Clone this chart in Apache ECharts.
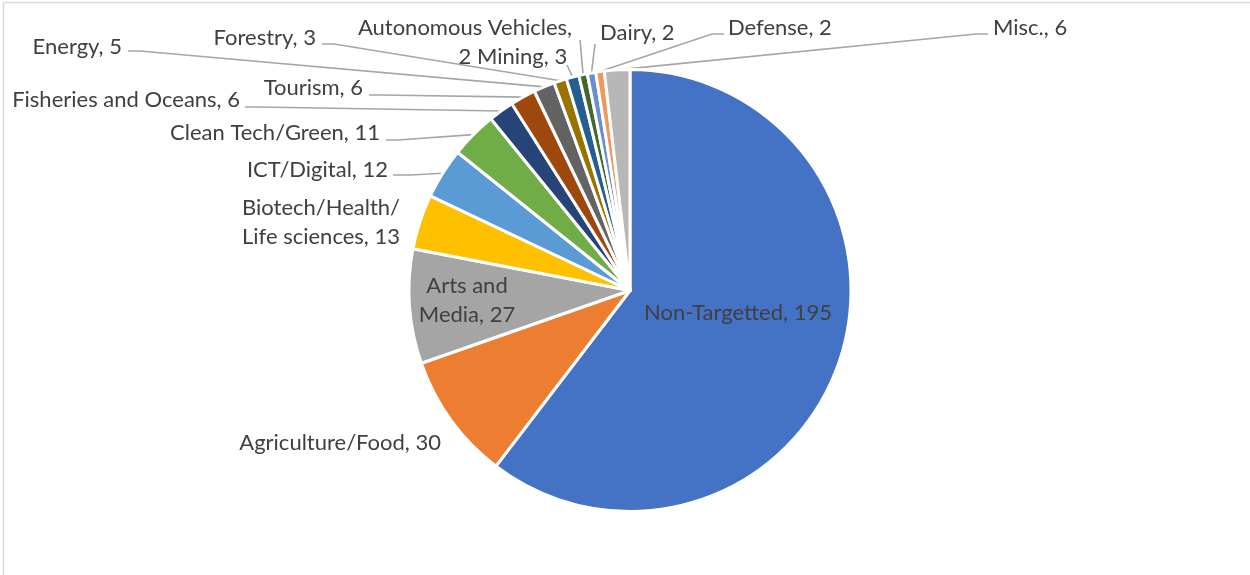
<!DOCTYPE html>
<html>
<head>
<meta charset="utf-8">
<script src="https://cdn.jsdelivr.net/npm/echarts@6/dist/echarts.min.js"></script>
<style>
  html, body { margin: 0; padding: 0; background: #ffffff; }
  #chart { width: 1250px; height: 575px; }
</style>
</head>
<body>
<div id="chart"></div>
<script>
// Sectors, in drawing order (clockwise from 12 o'clock)
const categories = [
  'Non-Targetted', 'Agriculture/Food', 'Arts and Media', 'Biotech/Health/Life sciences',
  'ICT/Digital', 'Clean Tech/Green', 'Fisheries and Oceans', 'Tourism', 'Energy',
  'Forestry', 'Mining', 'Autonomous Vehicles', 'Dairy', 'Defense', 'Misc.'
];
const values = [195, 30, 27, 13, 12, 11, 6, 6, 5, 3, 3, 2, 2, 2, 6];

// How each category name is broken over lines in its label
const labelNames = [
  'Non-Targetted', 'Agriculture/Food', 'Arts and\nMedia', 'Biotech/Health/\nLife sciences',
  'ICT/Digital', 'Clean Tech/Green', 'Fisheries and Oceans', 'Tourism', 'Energy',
  'Forestry', 'Mining', 'Autonomous Vehicles', 'Dairy', 'Defense', 'Misc.'
];
// Labels whose value sits on its own line
const valueOnNewLine = ['Autonomous Vehicles'];

const palette = [
  '#4472C4', '#ED7D31', '#A5A5A5', '#FFC000', '#5B9BD5', '#70AD47', '#264478',
  '#9E480E', '#636363', '#997300', '#255E91', '#43682B', '#698ED0', '#F1975A', '#B7B7B7'
];

// Label placement: anchor point, alignment and where the leader line meets the text
const placement = {
  'Non-Targetted':               { x: 738, y: 313, align: 'center', inside: true },
  'Agriculture/Food':            { x: 441, y: 443, align: 'right', noLine: true },
  'Arts and Media':              { x: 467, y: 300, align: 'center', inside: true },
  'Biotech/Health/Life sciences':{ x: 242, y: 222, align: 'left', noLine: true },
  'ICT/Digital':                 { x: 388, y: 170, align: 'right', attach: [393, 175], run: 18 },
  'Clean Tech/Green':            { x: 380, y: 133, align: 'right', attach: [386, 140], run: 12 },
  'Fisheries and Oceans':        { x: 240, y: 100, align: 'right', attach: [245, 107], run: 12 },
  'Tourism':                     { x: 363, y: 88,  align: 'right', attach: [369, 95],  run: 12 },
  'Energy':                      { x: 122, y: 47,  align: 'right', attach: [128, 51],  run: 12 },
  'Forestry':                    { x: 316, y: 38,  align: 'right', attach: [322, 44],  run: 12 },
  'Mining':                      { x: 477, y: 57,  align: 'left',  attach: [567, 65],  run: 0 },
  'Autonomous Vehicles':         { x: 465, y: 42,  align: 'center', attach: [580, 40], run: 0 },
  'Dairy':                       { x: 600, y: 33,  align: 'left',  attach: [595, 44],  run: 0 },
  'Defense':                     { x: 728, y: 28,  align: 'left',  attach: [724, 34],  run: -12 },
  'Misc.':                       { x: 993, y: 28,  align: 'left',  attach: [988, 34],  run: -12 }
};

const TEXT = '#404040';
const FONT = 'Lato';

const data = categories.map(function (name, i) {
  const p = placement[name];
  const item = {
    name: name,
    value: values[i],
    itemStyle: { color: palette[i] },
    label: {},
    labelLine: { show: !(p.inside || p.noLine) }
  };
  if (p.inside) item.label.position = 'inside';
  return item;
});

const chart = echarts.init(document.getElementById('chart'), null, { renderer: 'canvas' });

chart.setOption({
  animation: false,
  backgroundColor: '#ffffff',
  graphic: [{
    type: 'rect',
    silent: true,
    shape: { x: 3.5, y: 2.5, width: 1400, height: 800 },
    style: { fill: 'none', stroke: '#d9d9d9', lineWidth: 1.5 }
  }],
  series: [{
    type: 'pie',
    center: [630, 290.5],
    radius: 221,
    startAngle: 90,
    clockwise: true,
    avoidLabelOverlap: false,
    emphasis: { disabled: true },
    itemStyle: { borderColor: '#ffffff', borderWidth: 3 },
    label: {
      show: true,
      position: 'outside',
      color: TEXT,
      fontFamily: FONT,
      fontSize: 22,
      lineHeight: 29,
      formatter: function (params) {
        const i = params.dataIndex;
        const sep = valueOnNewLine.indexOf(params.name) >= 0 ? ',\n' : ', ';
        return labelNames[i] + sep + params.value;
      }
    },
    labelLine: {
      show: true,
      smooth: false,
      lineStyle: { color: '#a6a6a6', width: 1.6 }
    },
    labelLayout: function (params) {
      const name = categories[params.dataIndex];
      const p = placement[name];
      const out = {
        x: p.x,
        y: p.y,
        align: p.align,
        verticalAlign: 'middle'
      };
      if (p.attach && params.labelLinePoints) {
        const edge = params.labelLinePoints[0];
        const elbow = [p.attach[0] + p.run, p.attach[1]];
        out.labelLinePoints = [edge, elbow, p.attach];
      }
      return out;
    },
    data: data
  }]
});
</script>
</body>
</html>
